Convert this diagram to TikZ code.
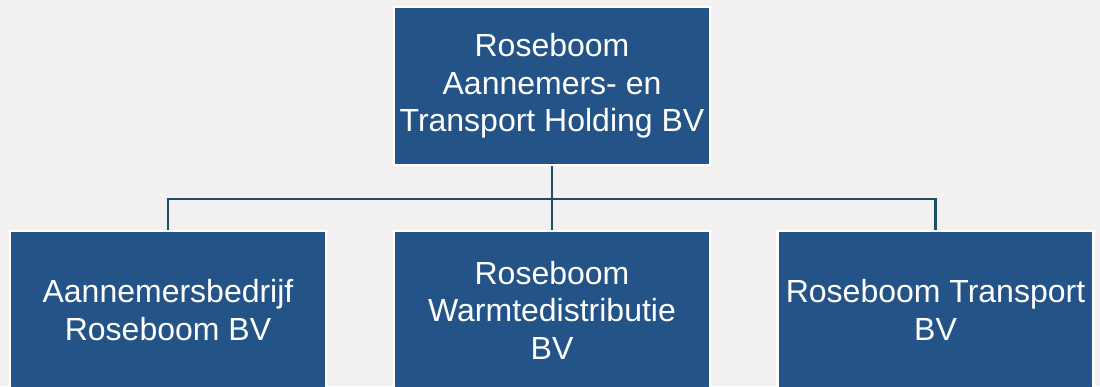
\documentclass[tikz,border=0pt]{standalone}
\usepackage{fontspec}
\setsansfont{Liberation Sans}
\usepackage{tikz}
\usetikzlibrary{positioning}
\definecolor{bgGrey}{RGB}{242,241,239}
\definecolor{unitBlue}{RGB}{35,83,135}
\definecolor{lineTeal}{RGB}{30,78,100}

\begin{document}
\begin{tikzpicture}[x=1pt, y=1pt,
		unit/.style={rectangle, draw=white, line width=2.5pt, fill=unitBlue, text=white, align=center,
			minimum width=316pt, minimum height=158pt, inner sep=0pt,
			font=\sffamily\fontsize{32}{37.5}\selectfont},
		link/.style={draw=lineTeal, line width=2.6pt}]
		\clip (0, 0) rectangle (1100, 386);
		\fill[bgGrey] (0, 0) rectangle (1100, 386);
		\node[unit] (holding) at (552, 300) {Roseboom\\Aannemers- en\\Transport Holding BV};
		\node[unit] (bedrijf) at (168, 76) {Aannemersbedrijf\\Roseboom BV};
		\node[unit] (warmte) at (552, 76) {Roseboom\\Warmtedistributie\\BV};
		\node[unit] (transport) at (935.5, 76) {Roseboom Transport\\BV};

		\coordinate (split) at (552, 187);
		\draw[link] (holding.south) -- (split);
		\draw[link] (bedrijf.north) |- (split) -| (transport.north);
		\draw[link] (split) -- (warmte.north);
\end{tikzpicture}
\end{document}
